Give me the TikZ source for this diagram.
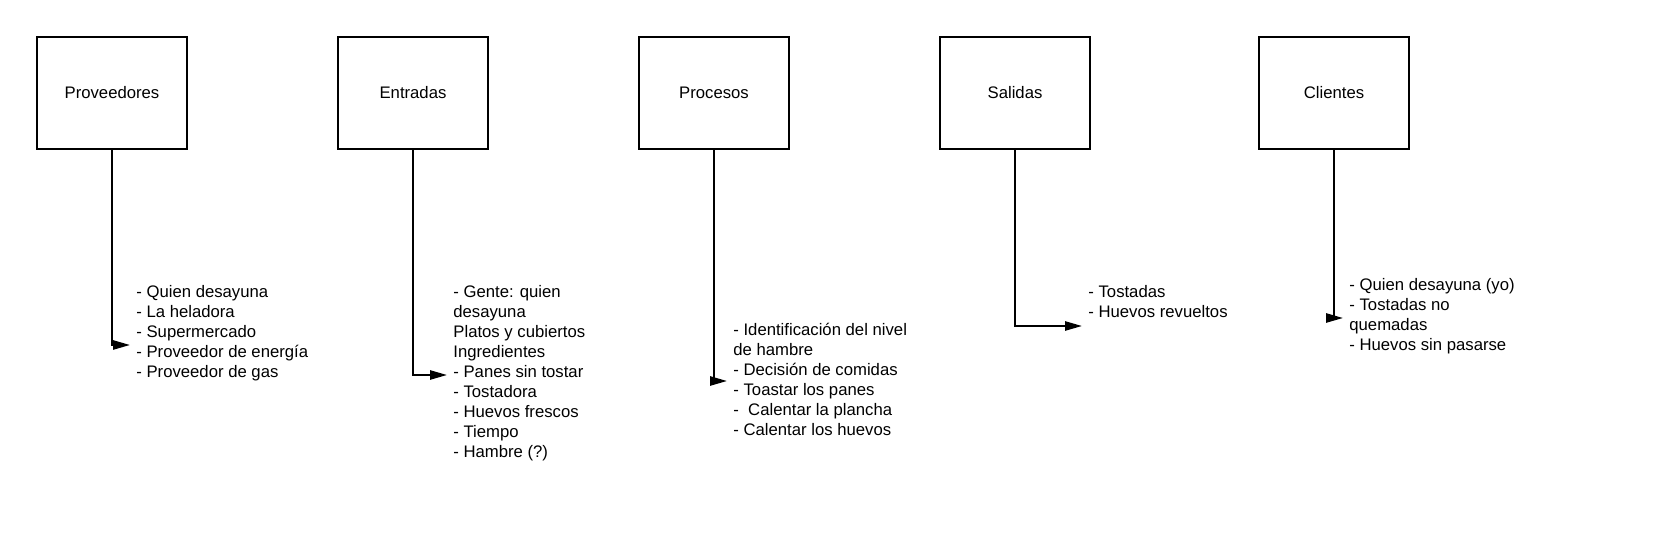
\documentclass[tikz,border=0pt]{standalone}
\usepackage{fontspec}
\setmainfont{Liberation Sans}
\usetikzlibrary{arrows.meta,positioning}

\begin{document}
\begin{tikzpicture}[
    x=0.5pt, y=-0.5pt,
    node distance=74.5pt,% distance between the boxes
    every node/.style={font=\fontsize{8.35pt}{10pt}\selectfont},
    bloque/.style={
        % The shape:
        rectangle,
        minimum width=75pt,
        minimum height=56pt,
        % The border
        draw=black,
        line width=1pt},
    lista/.style={
        align=left,
        inner sep=3pt,
        anchor=base west},% base = baseline of the last line
    flecha/.style={
        line width=1pt,
        -{Triangle[length=8.5pt,width=4.6pt]}}]
  \useasboundingbox (0,0) rectangle (1680,544);
  % the five boxes
  \node (prov) [bloque] at (112,93) {Proveedores};
  \node (entr) [bloque,right=of prov] {Entradas};
  \node (proc) [bloque,right=of entr] {Procesos};
  \node (sal) [bloque,right=of proc] {Salidas};
  \node (cli) [bloque,right=83.5pt of sal] {Clientes};
  % the lists
  \node (provtxt) [lista] at (130,378) {- Quien desayuna\\- La heladora\\- Supermercado\\- Proveedor de energía\\- Proveedor de gas};
  \node (entrtxt) [lista] at (447,458) {- Gente: quien\\desayuna\\Platos y cubiertos\\Ingredientes\\- Panes sin tostar\\- Tostadora\\- Huevos frescos\\- Tiempo\\- Hambre (?)};
  \node (proctxt) [lista] at (727,436) {- Identificación del nivel\\de hambre\\- Decisión de comidas\\- Toastar los panes\\-\ \ Calentar la plancha\\- Calentar los huevos};
  \node (saltxt) [lista] at (1082,318) {- Tostadas\\- Huevos revueltos};
  \node (clitxt) [lista] at (1343,351) {- Quien desayuna (yo)\\- Tostadas no\\quemadas\\- Huevos sin pasarse};
  % arrows
  \draw[flecha] (prov.south) |- ([yshift=16.5pt]provtxt.base west);
  \draw[flecha] (entr.south) |- ([yshift=41.5pt]entrtxt.base west);
  \draw[flecha] (proc.south) |- ([yshift=27.5pt]proctxt.base west);
  \draw[flecha] (sal.south) |- ([yshift=-4pt]saltxt.base west);
  \draw[flecha] (cli.south) |- ([yshift=16.5pt]clitxt.base west);
\end{tikzpicture}
\end{document}
